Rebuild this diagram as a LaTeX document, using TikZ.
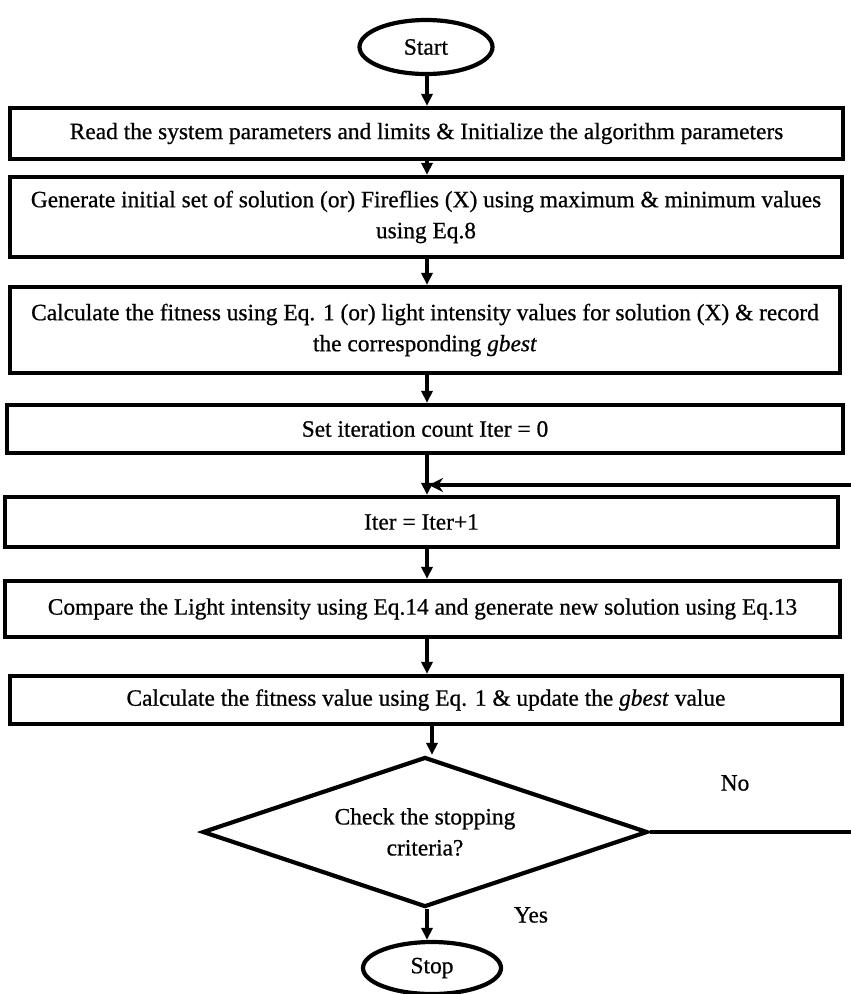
\documentclass[tikz,border=0pt]{standalone}
\usepackage{fontspec}
\setmainfont{Liberation Serif}[FakeBold=0.7]
\usetikzlibrary{shapes.geometric,arrows.meta}
\begin{document}
\begin{tikzpicture}[x=1pt,y=-1pt,
  txt/.style={font=\fontsize{23.4}{31}\selectfont},
  box/.style={draw, line width=4.2pt, rectangle, align=center, inner sep=0pt, txt},
  term/.style={draw, line width=4.2pt, ellipse, inner sep=0pt, txt},
  dec/.style={draw, line width=4.2pt, diamond, aspect=2.97, inner sep=0pt, align=center, txt},
  arr/.style={line width=4.2pt, -{Triangle[length=12pt,width=11pt]}},
  back/.style={line width=4.2pt, -{Stealth[length=14pt,width=14pt]}},
  plain/.style={line width=4.2pt},
  lbl/.style={txt}]
\useasboundingbox (0,0) rectangle (851,994);
\node[term, minimum width=133, minimum height=54] (start) at (426,47) {Start};
\node[box, minimum width=833, minimum height=51] (b1) at (426.5,133.5)
  {Read the system parameters and limits \& Initialize the algorithm parameters};
\node[box, minimum width=832, minimum height=80] (b2) at (426,217)
  {Generate initial set of solution (or) Fireflies (X) using maximum \& minimum values\\using Eq.8};
\node[box, minimum width=830, minimum height=86] (b3) at (425,330)
  {Calculate the fitness using Eq. 1 (or) light intensity values for solution (X) \& record\\the corresponding \textit{gbest}};
\node[box, minimum width=836, minimum height=48] (b4) at (425,429)
  {Set iteration count Iter = 0};
\node[box, minimum width=833, minimum height=50] (b5) at (421.5,522)
  {Iter = Iter+1};
\node[box, minimum width=835, minimum height=56] (b6) at (422.5,609)
  {Compare the Light intensity using Eq.14 and generate new solution using Eq.13};
\node[box, minimum width=832, minimum height=48] (b7) at (426,700)
  {Calculate the fitness value using Eq. 1 \& update the \textit{gbest} value};
\node[dec, minimum width=445, minimum height=150] (d) at (425,832)
  {Check the stopping\\criteria?};
\node[term, minimum width=138, minimum height=52] (stop) at (432,968) {Stop};
\node[lbl] (no) at (735,783) {No};
\node[lbl] (yes) at (531,915) {Yes};
\coordinate (cx) at (427,0);
\coordinate (fbR) at (851,485);
\coordinate (noR) at (851,832);
\draw[arr] (cx |- start.south) -- (cx |- b1.north);
\draw[arr] (cx |- b1.south) -- (cx |- b2.north);
\draw[arr] (cx |- b2.south) -- (cx |- b3.north);
\draw[arr] (cx |- b3.south) -- (cx |- b4.north);
\draw[arr] (cx |- b4.south) -- (cx |- b5.north);
\draw[arr] (cx |- b5.south) -- (cx |- b6.north);
\draw[arr] (cx |- b6.south) -- (cx |- b7.north);
\draw[arr] ([xshift=5pt]cx |- b7.south) -- ([xshift=5pt]cx |- d.north);
\draw[arr] (cx |- d.south) -- (cx |- stop.north);
\draw[plain] (d.east) -- (noR);
\draw[back] (fbR) -- ([xshift=2pt]cx |- fbR);
\end{tikzpicture}
\end{document}
